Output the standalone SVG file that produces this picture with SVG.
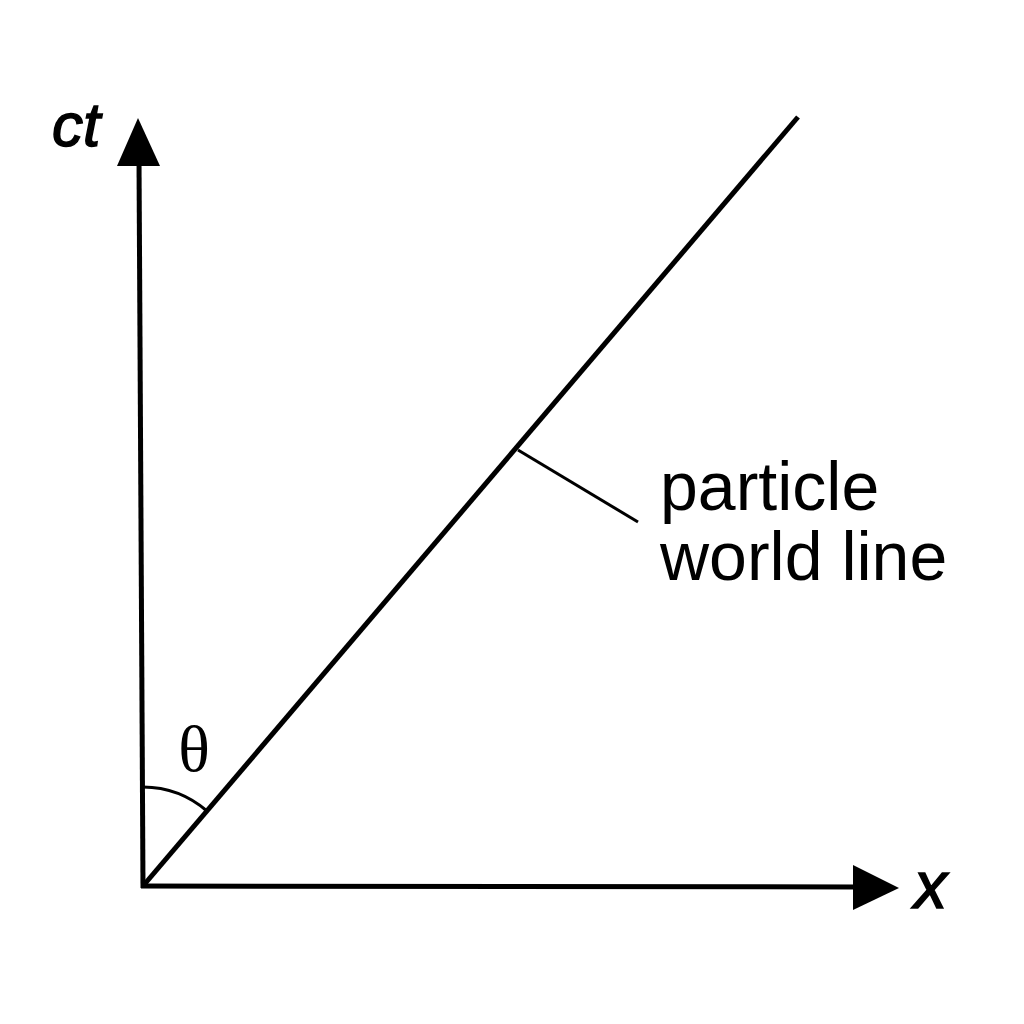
<svg xmlns="http://www.w3.org/2000/svg" width="1024" height="1024" viewBox="0 0 1024 1024">
<style>
.ax{stroke:#000;stroke-width:5;fill:none;stroke-linecap:butt}
.thin{stroke:#000;stroke-width:3;fill:none}
.lbl{font-family:"Liberation Sans",Arial,sans-serif;fill:#000}
.ital{font-style:italic;stroke:#000;stroke-width:1.5}
.serif{font-family:"Liberation Serif","Times New Roman",serif;fill:#000}
</style>
<rect width="1024" height="1024" fill="#fff"/>
<g id="connectors">
<line class="ax" x1="143" y1="888" x2="139" y2="160"/>
<polygon points="138,118 117,166 160,166" fill="#000"/>
<line class="ax" x1="141" y1="886" x2="858" y2="887"/>
<polygon points="899,888 853,865 853,910" fill="#000"/>
<line class="ax" x1="143" y1="886" x2="798" y2="117"/>
<path class="thin" d="M143,787 A99,99 0 0 1 207,811"/>
<line class="thin" x1="518" y1="450" x2="638" y2="522"/>
</g>
<g id="label-ct"><text class="lbl ital" x="52" y="146" font-size="62">ct</text></g>
<g id="label-x"><text class="lbl ital" x="914" y="908" font-size="66">x</text></g>
<g id="label-theta"><text class="serif" x="194" y="771" font-size="66" text-anchor="middle">θ</text></g>
<g id="label-worldline">
<text class="lbl" x="660" y="510" font-size="68">particle</text>
<text class="lbl" x="660" y="580" font-size="68">world line</text>
</g>
</svg>
